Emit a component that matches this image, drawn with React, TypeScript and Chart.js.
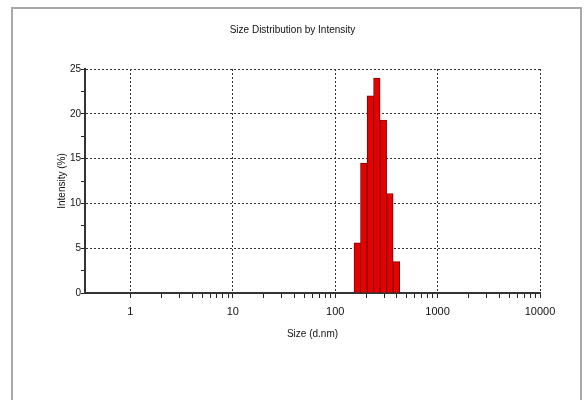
import React, { useEffect, useRef } from 'react';
import { Chart, registerables } from 'chart.js';

Chart.register(...registerables);

// Size bins (d.nm) and intensity (%)
const sizes = [164.2, 190.1, 220.2, 255.0, 295.3, 342.0, 396.1];
const intensity = [5.6, 14.5, 22.0, 24.0, 19.3, 11.1, 3.5];

// Axis ticks
const majorX = [1, 10, 100, 1000, 10000];
const minorMult = [2, 3, 4, 5, 6, 7, 8, 9];
const yTickValues = [0, 2.5, 5, 7.5, 10, 12.5, 15, 17.5, 20, 22.5, 25];
const yLabelValues = [0, 5, 10, 15, 20, 25];

const chartTitle = 'Size Distribution by Intensity';
const xTitle = 'Size (d.nm)';
const yTitle = 'Intensity (%)';

const FONT = "'Liberation Sans', Arial, sans-serif";

export default function App() {
  const ref = useRef<HTMLCanvasElement | null>(null);

  useEffect(() => {
    if (!ref.current) return;
    const xTickList: number[] = [];
    majorX.forEach((m, i) => {
      xTickList.push(m);
      if (i < majorX.length - 1) minorMult.forEach((k) => xTickList.push(m * k));
    });
    xTickList.sort((a, b) => a - b);

    const chart = new Chart(ref.current, {
      type: 'bar',
      data: {
        datasets: [
          {
            data: sizes.map((s, i) => ({ x: s, y: intensity[i] })),
            xAxisID: 'xb',
            yAxisID: 'y',
            backgroundColor: '#e80000',
            borderColor: '#7a0000',
            borderWidth: 1,
            barPercentage: 1,
            categoryPercentage: 1,
          } as any,
        ],
      },
      options: {
        responsive: false,
        animation: false,
        layout: { padding: { left: 0, right: 0, top: 0, bottom: 60 } },
        plugins: {
          legend: { display: false },
          tooltip: { enabled: false },
          title: {
            display: true,
            text: chartTitle,
            color: '#111',
            font: { family: FONT, size: 10, lineHeight: 1.2, weight: 'normal' },
            padding: { top: 24, bottom: 33 },
          },
        },
        scales: {
          xb: {
            type: 'logarithmic',
            display: false,
            min: 0.36,
            max: 10000,
            offset: false,
            grid: { offset: false },
            afterBuildTicks: (s: any) => {
              s.ticks = sizes.map((v) => ({ value: v }));
            },
          },
          x: {
            type: 'logarithmic',
            position: 'bottom',
            min: 0.36,
            max: 10000,
            offset: false,
            afterBuildTicks: (s: any) => {
              s.ticks = xTickList.map((v) => ({ value: v, major: majorX.includes(v) }));
            },
            afterFit: (s: any) => {
              s.height = 47;
            },
            ticks: {
              autoSkip: false,
              maxRotation: 0,
              minRotation: 0,
              padding: 7,
              color: '#111',
              font: { family: FONT, size: 11 },
              callback: (v: any) => (majorX.includes(Number(v)) ? String(v) : ''),
            },
            grid: {
              offset: false,
              color: (ctx: any) =>
                ctx.tick && majorX.includes(ctx.tick.value) ? '#333' : 'rgba(0,0,0,0)',
              tickColor: '#222',
              tickLength: 5,
              lineWidth: 1,
            } as any,
            border: { display: true, color: '#333', width: 2, dash: [2, 2] },
            title: {
              display: true,
              text: xTitle,
              color: '#111',
              font: { family: FONT, size: 10, lineHeight: 1.2 },
              padding: 0,
            },
          },
          y: {
            type: 'linear',
            position: 'left',
            min: 0,
            max: 25,
            afterBuildTicks: (s: any) => {
              s.ticks = yTickValues.map((v) => ({ value: v }));
            },
            afterFit: (s: any) => {
              s.width = 85;
            },
            ticks: {
              padding: 0,
              color: '#111',
              font: { family: FONT, size: 10 },
              callback: (v: any) => (yLabelValues.includes(Number(v)) ? String(v) : ''),
            },
            grid: {
              color: (ctx: any) =>
                ctx.tick && yLabelValues.includes(ctx.tick.value) && ctx.tick.value !== 0
                  ? '#333'
                  : 'rgba(0,0,0,0)',
              tickColor: '#222',
              tickLength: 4,
              lineWidth: 1,
            } as any,
            border: { display: true, color: '#333', width: 2, dash: [2, 2] },
            title: {
              display: true,
              text: yTitle,
              color: '#111',
              font: { family: FONT, size: 10, lineHeight: 1.2 },
              padding: { top: 56, bottom: 0 },
            },
          },
          yr: {
            type: 'linear',
            position: 'right',
            display: true,
            min: 0,
            max: 25,
            afterFit: (s: any) => {
              s.width = 45;
            },
            ticks: { display: false },
            grid: { display: false, drawOnChartArea: false },
            border: { display: false },
          },
        },
      } as any,
    });
    return () => chart.destroy();
  }, []);

  return (
    <div style={{ position: 'fixed', left: 0, top: 0, width: 585, height: 400, background: '#fff', overflow: 'hidden' }}>
      <div
        style={{
          position: 'absolute',
          left: 11,
          top: 7,
          width: 567,
          height: 400,
          borderTop: '2px solid #a8a8a8',
          borderLeft: '2px solid #a8a8a8',
          borderRight: '2px solid #a8a8a8',
        }}
      />
      <canvas
        ref={ref}
        width={585}
        height={400}
        style={{ position: 'absolute', left: 0, top: 0, width: 585, height: 400 }}
      />
    </div>
  );
}
